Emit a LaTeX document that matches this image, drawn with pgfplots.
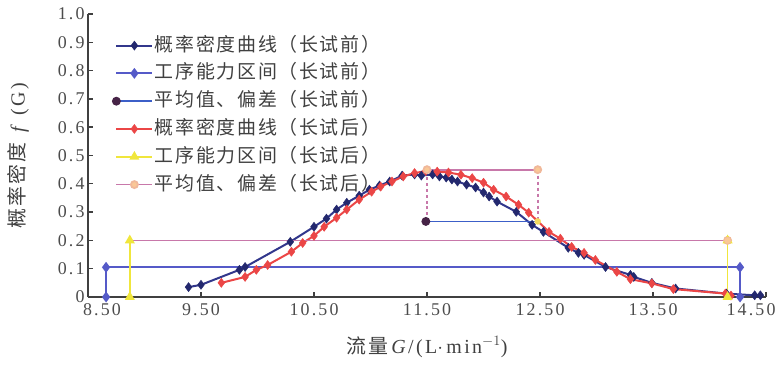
\documentclass[border=0pt]{standalone}
\usepackage{fontspec}
\setmainfont{Liberation Serif}
\newfontfamily\cjk[LetterSpace=9]{Noto Sans CJK SC}
\newfontfamily\tickfont[LetterSpace=12]{Liberation Serif}
\usepackage{pgfplots}
\pgfplotsset{compat=1.18}
\definecolor{navy}{RGB}{35,40,110}
\definecolor{navyline}{RGB}{50,55,140}
\definecolor{ivblue}{RGB}{85,90,200}
\definecolor{meanblue}{RGB}{60,95,200}
\definecolor{meanmark}{RGB}{70,35,70}
\definecolor{redc}{RGB}{235,70,70}
\definecolor{yel}{RGB}{240,230,60}
\definecolor{pinkl}{RGB}{200,120,170}
\definecolor{pinkm}{RGB}{250,200,150}
\begin{document}
\begin{tikzpicture}
\begin{axis}[
  width=678bp, height=283bp, scale only axis,
  xmin=8.5, xmax=14.5, ymin=0, ymax=1,
  axis lines=left,
  axis line style={line width=1.8bp, color=black!75, -},
  tick style={line width=1.4bp, color=black!75},
  tick align=inside, major tick length=5bp,
  xtick={8.5,9.5,10.5,11.5,12.5,13.5,14.5},
  xticklabels={\hspace*{28bp}8.50,9.50,10.50,11.50,12.50,13.50,14.50\hspace*{30bp}},
  ytick={0,0.1,0.2,0.3,0.4,0.5,0.6,0.7,0.8,0.9,1.0},
  yticklabels={0,0.1,0.2,0.3,0.4,0.5,0.6,0.7,0.8,0.9,1.0},
  ticklabel style={font=\tickfont\fontsize{18}{20}\selectfont, text=black!70},
  xticklabel style={yshift=-3bp},
  clip=false,
  xlabel={{\cjk 流量}\,{\tickfont\textit{G}/(L$\cdot$\,min$^{-1}$)}},
  xlabel style={at={(axis description cs:0.5,-0.177)}, anchor=center, font=\fontsize{20}{22}\selectfont, text=black!75},
  ylabel={{\cjk 概率密度}\ \ {\tickfont\textit{f}\ (G)}},
  ylabel style={at={(axis description cs:-0.103,0.5)}, anchor=center, rotate=0, font=\fontsize{20}{22}\selectfont, text=black!75},
  legend style={at={(axis description cs:0.032,0.935)}, anchor=north west, draw=none, fill=none,
    font=\cjk\fontsize{19}{22}\selectfont, text=black!75, row sep=5.8bp,
    nodes={inner sep=1.5bp, text height=15bp, text depth=4bp},
    /tikz/every even column/.append style={column sep=2bp}},
  legend cell align=left,
  legend image code/.code={\draw[mark repeat=2,mark phase=2,#1] plot coordinates {(0bp,0bp) (18bp,0bp) (36bp,0bp)};},
]
% 1 navy curve
\addplot[color=navyline, line width=2bp, mark=diamond*, mark size=4.5bp, mark options={fill=navy, draw=navy, line width=0.5bp}] coordinates {
(9.39,0.035) (9.50,0.043) (9.84,0.096) (9.89,0.106) (10.29,0.195) (10.50,0.248) (10.61,0.277) (10.70,0.309) (10.79,0.333) (10.90,0.358) (10.99,0.379) (11.08,0.394) (11.17,0.408) (11.28,0.429) (11.39,0.433) (11.45,0.429) (11.55,0.433) (11.61,0.426) (11.67,0.422) (11.72,0.415) (11.77,0.408) (11.85,0.397) (11.93,0.387) (12.00,0.369) (12.05,0.355) (12.12,0.337) (12.29,0.301) (12.43,0.255) (12.53,0.230) (12.75,0.174) (12.84,0.156) (12.89,0.149) (13.08,0.106) (13.30,0.078) (13.33,0.071) (13.49,0.050) (13.70,0.030) (14.15,0.012) (14.40,0.006) (14.45,0.006)
};
\addlegendentry{概率密度曲线（长试前）}
% 2 interval before
\addplot[color=ivblue, line width=1.8bp, mark=diamond*, mark size=4bp, mark options={fill=ivblue}] coordinates {
(8.66,0) (8.66,0.105) (14.27,0.105) (14.27,0)
};
\addlegendentry{工序能力区间（长试前）}
% 3 mean before
\addplot[color=meanblue, line width=1.8bp, mark=*, mark size=3.5bp, mark indices={1}, mark options={fill=meanmark, draw=meanmark}] coordinates {
(11.49,0.267) (12.48,0.267)
};
\addlegendentry{平均值、偏差（长试前）}
% 4 red curve
\addplot[color=redc, line width=2bp, mark=diamond*, mark size=4.5bp, mark options={fill=redc, draw=redc, line width=0.5bp}] coordinates {
(9.68,0.050) (9.89,0.071) (9.99,0.096) (10.09,0.113) (10.30,0.160) (10.40,0.191) (10.50,0.216) (10.59,0.248) (10.70,0.280) (10.79,0.309) (10.90,0.344) (11.01,0.372) (11.09,0.390) (11.19,0.408) (11.29,0.426) (11.39,0.438) (11.49,0.445) (11.59,0.443) (11.69,0.440) (11.80,0.432) (11.90,0.420) (12.00,0.404) (12.09,0.379) (12.20,0.355) (12.31,0.326) (12.40,0.298) (12.58,0.230) (12.68,0.206) (12.78,0.177) (12.89,0.156) (12.99,0.131) (13.18,0.089) (13.30,0.063) (13.49,0.048) (13.68,0.028) (14.14,0.012) (14.19,0.005)
};
\addlegendentry{概率密度曲线（长试后）}
% 5 interval after
\addplot[color=yel, line width=1.8bp, mark=triangle*, mark size=4bp, mark options={fill=yel}] coordinates {
(8.87,0) (8.87,0.2)
};
\addlegendentry{工序能力区间（长试后）}
% 6 mean after
\addplot[color=pinkl, line width=1.8bp, mark=*, mark size=3.5bp, mark indices={2}, mark options={fill=pinkm, draw=pinkm!80!pinkl}] coordinates {
(8.87,0.2) (14.16,0.2)
};
\addlegendentry{平均值、偏差（长试后）}
% extra pieces
\addplot[forget plot, color=yel, line width=1.8bp, mark=triangle*, mark size=4bp, mark options={fill=yel}] coordinates {
(14.16,0.2) (14.16,0)
};
\addplot[forget plot, color=pinkl, line width=1.6bp, dashed] coordinates {
(11.5,0.267) (11.5,0.45)
};
\addplot[forget plot, color=pinkl, line width=1.6bp, dashed] coordinates {
(12.48,0.45) (12.48,0.267)
};
\addplot[forget plot, color=pinkl, line width=1.8bp, mark=*, mark size=3.5bp, mark options={fill=pinkm, draw=pinkm!80!pinkl}] coordinates {
(11.5,0.45) (12.48,0.45)
};
\addplot[forget plot, only marks, mark=*, mark size=3bp, mark options={fill=yel!60!pinkm, draw=yel!60!pinkm}] coordinates {
(12.48,0.267)
};
\addplot[forget plot, only marks, mark=*, mark size=3.5bp, mark options={fill=pinkm, draw=pinkm!80!pinkl}] coordinates {
(14.16,0.2)
};
\end{axis}
\pgfresetboundingbox
\path[use as bounding box] (-88bp,-68bp) rectangle (688bp,297bp);
\end{tikzpicture}
\end{document}
